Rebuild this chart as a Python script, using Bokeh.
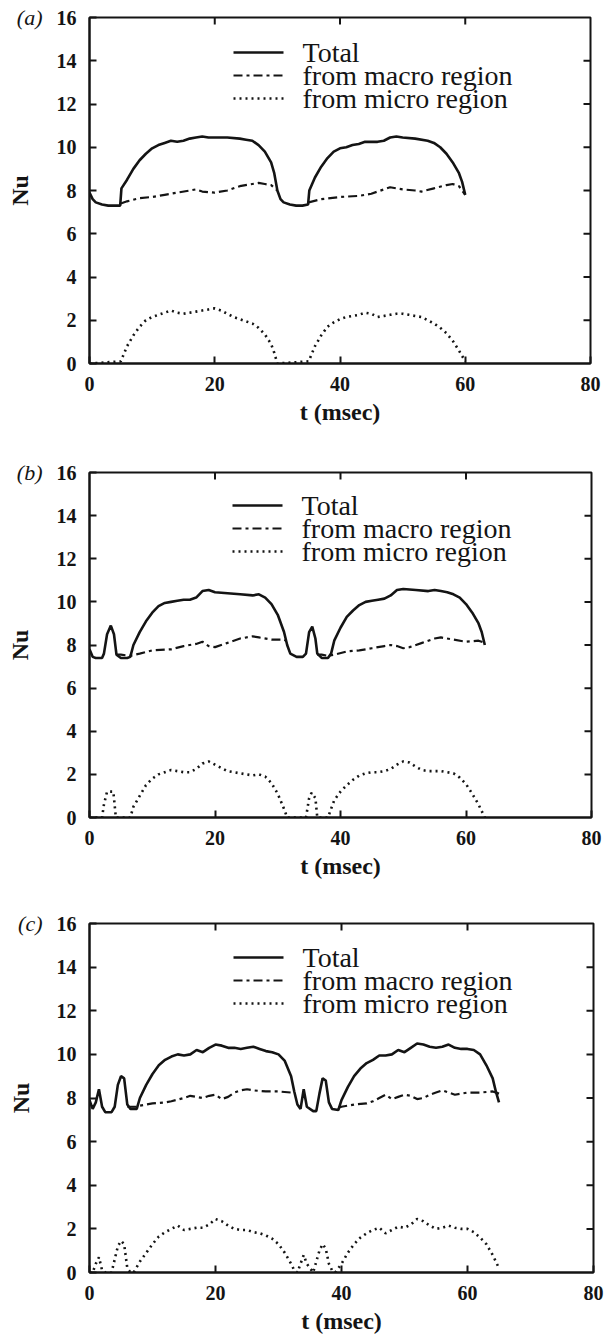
import math
from bokeh.plotting import figure
from bokeh.layouts import column
from bokeh.models import LinearAxis, FixedTicker, Range1d, CustomJSTickFormatter
from bokeh.core.properties import value
from bokeh.embed import file_html
from bokeh.resources import INLINE

NAN = math.nan

# ---------------- data: Nusselt number vs time ----------------
x_ticks = [0, 20, 40, 60, 80]
y_ticks = [0, 2, 4, 6, 8, 10, 12, 14, 16]
series_names = ["Total", "from macro region", "from micro region"]

# (a)
a_total_t = [0, 0.5, 1, 2, 3, 4, 4.9, 5.1, 6, 7, 8, 9, 10, 11, 12, 13, 14, 15, 16, 17, 18, 19, 20,
             22, 24, 25, 26, 27, 28, 29, 29.5, 30, 30.5, 31, 32, 33, 34, 34.9, 35.1,
             36, 37, 38, 39, 40, 41, 42, 43, 44, 45, 46, 47, 48, 49, 50, 52, 54, 55, 56, 57, 58, 59, 59.5, 60]
a_total = [7.9, 7.6, 7.45, 7.35, 7.3, 7.3, 7.3, 8.1, 8.5, 9.0, 9.4, 9.7, 9.95, 10.1, 10.2, 10.3, 10.25, 10.3,
           10.4, 10.45, 10.5, 10.45, 10.45, 10.45, 10.4, 10.35, 10.3, 10.1, 9.8, 9.3, 8.8, 8.0, 7.6, 7.45,
           7.35, 7.3, 7.3, 7.35, 8.0, 8.6, 9.1, 9.5, 9.8, 9.95, 10.0, 10.1, 10.15, 10.25, 10.25, 10.25, 10.3,
           10.45, 10.5, 10.45, 10.4, 10.3, 10.2, 10.0, 9.7, 9.3, 8.8, 8.4, 7.8]
a_macro_t = [5, 6, 8, 10, 12, 14, 16, 17, 18, 20, 22, 24, 26, 27, 28, 29, 30, NAN,
             35, 37, 40, 43, 45, 47, 48, 50, 52, 53, 55, 57, 58, 59, 60]
a_macro = [7.4, 7.5, 7.65, 7.7, 7.8, 7.9, 8.0, 8.05, 7.95, 7.9, 8.0, 8.2, 8.3, 8.35, 8.3, 8.25, 8.0, NAN,
           7.45, 7.6, 7.7, 7.75, 7.85, 8.05, 8.15, 8.05, 8.0, 7.95, 8.1, 8.25, 8.3, 8.2, 7.8]
a_micro_t = [0, 5, 6, 7, 8, 9, 10, 11, 12, 13, 14, 15, 16, 17, 18, 19, 20, 21, 22, 23, 24, 25, 26, 27, 28, 29,
             29.5, 30, 35, 36, 37, 38, 39, 40, 41, 42, 43, 44, 45, 46, 47, 48, 49, 50, 51, 52, 53, 54, 55,
             56, 57, 58, 59, 60]
a_micro = [0, 0.1, 0.8, 1.3, 1.7, 2.0, 2.15, 2.25, 2.35, 2.45, 2.35, 2.3, 2.35, 2.4, 2.45, 2.5, 2.55, 2.45,
           2.3, 2.15, 2.05, 1.95, 1.85, 1.65, 1.35, 0.9, 0.5, 0, 0.1, 0.8, 1.3, 1.7, 1.9, 2.05, 2.15, 2.2,
           2.25, 2.35, 2.3, 2.15, 2.2, 2.25, 2.3, 2.3, 2.25, 2.2, 2.15, 2.0, 1.85, 1.65, 1.4, 1.05, 0.6, 0.1]

# (b)
b_total_t = [0, 0.5, 1, 2, 2.3, 2.8, 3.4, 3.9, 4.3, 5, 6, 6.5, 7, 8, 9, 10, 11, 12, 13, 14, 15, 16, 17, 18,
             19, 20, 22, 24, 26, 27, 28, 29, 30, 31, 31.5, 32, 33, 34, 34.5, 35, 35.5, 36, 36.3, 37, 38,
             38.5, 39, 40, 41, 42, 43, 44, 45, 46, 47, 48, 49, 50, 52, 54, 55, 56, 57, 58, 59, 60, 61, 62,
             62.5, 63]
b_total = [7.8, 7.45, 7.4, 7.4, 7.6, 8.5, 8.9, 8.5, 7.55, 7.4, 7.4, 7.45, 8.0, 8.6, 9.1, 9.5, 9.8, 9.95,
           10.0, 10.05, 10.1, 10.1, 10.2, 10.5, 10.55, 10.45, 10.4, 10.35, 10.3, 10.35, 10.2, 9.9, 9.4, 8.6,
           8.0, 7.6, 7.45, 7.45, 7.6, 8.6, 8.85, 8.3, 7.6, 7.4, 7.4, 7.6, 8.2, 8.8, 9.3, 9.6, 9.85, 10.0,
           10.05, 10.1, 10.15, 10.3, 10.55, 10.6, 10.55, 10.5, 10.55, 10.5, 10.45, 10.35, 10.2, 9.9, 9.5,
           9.0, 8.6, 8.0]
b_macro_t = [4.3, 5, 6.5, 8, 10, 13, 15, 17, 18, 19, 20, 22, 24, 26, 27, 29, 31, 31.3, NAN,
             36.3, 37, 38, 39, 41, 43, 45, 47, 48, 49, 50, 51, 53, 55, 56, 58, 60, 62, 63]
b_macro = [7.55, 7.55, 7.5, 7.6, 7.75, 7.8, 7.95, 8.05, 8.15, 7.95, 7.9, 8.1, 8.3, 8.4, 8.35, 8.25, 8.25,
           8.2, NAN, 7.55, 7.55, 7.5, 7.55, 7.7, 7.75, 7.85, 7.95, 8.0, 7.95, 7.85, 7.9, 8.1, 8.3, 8.35,
           8.25, 8.15, 8.2, 8.1]
b_micro_t = [0, 2, 2.3, 2.8, 3.8, 4.2, 6.5, 7, 8, 9, 10, 11, 12, 13, 14, 15, 16, 17, 18, 19, 20, 21, 22,
             24, 26, 27, 28, 29, 30, 31, 31.5, 34.5, 35, 35.4, 36, 36.3, 38, 38.5, 39, 40, 41, 42, 43, 44,
             45, 46, 47, 48, 49, 50, 51, 52, 53, 54, 55, 56, 57, 58, 59, 60, 61, 62, 63]
b_micro = [0, 0, 0.6, 1.2, 1.2, 0, 0, 0.5, 1.0, 1.5, 1.8, 2.0, 2.1, 2.2, 2.15, 2.1, 2.1, 2.25, 2.5, 2.6,
           2.45, 2.3, 2.15, 2.05, 1.95, 2.0, 1.9, 1.6, 1.1, 0.4, 0, 0, 0.9, 1.15, 0.9, 0, 0, 0.4, 0.8, 1.2,
           1.5, 1.75, 1.95, 2.05, 2.1, 2.1, 2.15, 2.25, 2.45, 2.6, 2.55, 2.35, 2.2, 2.15, 2.15, 2.15, 2.1,
           2.05, 1.85, 1.55, 1.1, 0.6, 0]

# (c)
c_total_t = [0, 0.5, 1, 1.5, 2, 2.5, 3.5, 4, 4.5, 5, 5.5, 6, 6.5, 7.5, 8, 9, 10, 11, 12, 13, 14, 15, 16,
             17, 18, 19, 20, 21, 22, 23, 24, 25, 26, 27, 28, 29, 30, 31, 32, 32.5, 33, 33.5, 34, 34.5,
             35.5, 36, 36.5, 37, 37.5, 38, 38.5, 39.5, 40, 41, 42, 43, 44, 45, 46, 47, 48, 49, 50, 51, 52,
             53, 54, 55, 56, 57, 58, 59, 60, 61, 62, 63, 64, 64.5, 65]
c_total = [7.9, 7.5, 7.8, 8.4, 7.6, 7.35, 7.35, 7.6, 8.6, 9.0, 8.9, 7.7, 7.5, 7.5, 8.0, 8.6, 9.1, 9.5,
           9.75, 9.9, 10.0, 9.95, 10.0, 10.2, 10.1, 10.3, 10.45, 10.4, 10.3, 10.3, 10.25, 10.3, 10.35,
           10.25, 10.15, 10.1, 10.0, 9.7, 9.0, 8.3, 7.7, 7.5, 8.4, 7.6, 7.4, 7.4, 8.2, 8.9, 8.8, 7.8, 7.5,
           7.45, 7.9, 8.5, 9.0, 9.35, 9.6, 9.75, 9.95, 9.95, 10.0, 10.2, 10.1, 10.3, 10.5, 10.45, 10.35,
           10.3, 10.35, 10.45, 10.3, 10.25, 10.25, 10.2, 10.0, 9.5, 8.9, 8.3, 7.8]
c_macro_t = [6, 7.5, 8, 10, 12, 13, 15, 16, 17, 18, 19, 20, 21, 22, 23, 24, 25, 26, 28, 30, 32, NAN,
             39.5, 40, 42, 44, 45, 46, 47, 48, 49, 50, 51, 52, 53, 54, 55, 56, 57, 58, 59, 60, 62, 64, 65]
c_macro = [7.6, 7.6, 7.65, 7.75, 7.8, 7.85, 8.0, 8.1, 8.05, 8.0, 8.1, 8.15, 7.95, 8.05, 8.25, 8.35, 8.4,
           8.35, 8.3, 8.3, 8.25, NAN, 7.55, 7.6, 7.7, 7.75, 7.85, 8.0, 8.15, 7.95, 8.05, 8.15, 8.1, 7.95,
           8.0, 8.15, 8.25, 8.35, 8.25, 8.15, 8.2, 8.25, 8.25, 8.3, 8.2]
c_micro_t = [0, 0.5, 1, 1.5, 2, 2.5, 3.5, 4, 4.5, 5, 5.5, 6, 6.5, 7, 8, 9, 10, 11, 12, 13, 14, 15, 16, 17,
             18, 19, 20, 21, 22, 23, 24, 25, 26, 27, 28, 29, 30, 31, 32, 32.5, 33, 33.5, 34, 34.5, 35,
             35.5, 36, 36.5, 37, 37.5, 38, 38.5, 39, 40, 41, 42, 43, 44, 45, 46, 47, 48, 49, 50, 51, 52,
             53, 54, 55, 56, 57, 58, 59, 60, 61, 62, 63, 64, 65]
c_micro = [0, 0, 0.4, 0.7, 0.1, 0, 0, 0.6, 1.2, 1.45, 1.3, 0.2, 0, 0, 0.5, 0.9, 1.3, 1.65, 1.85, 2.0, 2.15,
           1.95, 2.0, 2.05, 2.05, 2.2, 2.45, 2.35, 2.15, 2.0, 1.95, 1.95, 1.85, 1.8, 1.7, 1.55, 1.3, 0.9,
           0.4, 0.1, 0, 0.4, 0.8, 0.4, 0.2, 0, 0.5, 1.0, 1.3, 1.1, 0.4, 0.1, 0, 0.4, 0.9, 1.3, 1.6, 1.8,
           1.95, 2.05, 1.8, 1.95, 2.1, 2.05, 2.2, 2.45, 2.35, 2.15, 2.0, 2.05, 2.15, 2.05, 2.0, 2.0, 1.85,
           1.6, 1.3, 0.8, 0.2]

# ---------------- styling ----------------
INK = "#141414"
SERIF = "Liberation Serif"
TICK = 7  # inward tick length, px
STYLES = [dict(line_width=2.6),
          dict(line_width=2.2, line_dash="9 4 3 4"),
          dict(line_width=2.6, line_dash="2 4")]


def panel(tag, series, left, fw, right, top, fh, bottom, key_left, key_top):
    p = figure(frame_width=fw, frame_height=fh, min_border_left=left, min_border_right=right,
               min_border_top=top, min_border_bottom=bottom,
               x_range=Range1d(0, 80), y_range=Range1d(0, 16),
               output_backend="svg", toolbar_location=None, x_axis_location=None,
               y_axis_location=None)
    p.grid.visible = False
    p.outline_line_color = INK
    p.outline_line_width = 2
    p.background_fill_color = "white"
    p.border_fill_color = "white"

    def axis(loc, ticks):
        ax = LinearAxis(ticker=FixedTicker(ticks=ticks))
        ax.axis_line_color = INK
        ax.axis_line_width = 2
        ax.major_tick_in = TICK
        ax.major_tick_out = 0
        ax.major_tick_line_width = 2
        ax.major_tick_line_color = INK
        ax.minor_tick_line_color = None
        ax.major_label_text_font = SERIF
        ax.major_label_text_font_style = "bold"
        ax.major_label_text_font_size = "20px"
        ax.major_label_text_color = INK
        ax.major_label_standoff = 13
        ax.axis_label_text_font = SERIF
        ax.axis_label_text_font_style = "bold"
        ax.axis_label_text_font_size = "24px"
        ax.axis_label_text_color = INK
        p.add_layout(ax, loc)
        return ax

    xb = axis("below", x_ticks)
    xb.axis_label = "t (msec)"
    xb.axis_label_standoff = 5
    axis("left", y_ticks)

    # outer left axis: carries the panel tag beside the top tick and the "Nu" title
    tag_ax = LinearAxis(ticker=FixedTicker(ticks=[y_ticks[-1]]),
                        formatter=CustomJSTickFormatter(code=f"return '({tag})'"))
    tag_ax.axis_line_color = None
    tag_ax.major_tick_line_color = None
    tag_ax.minor_tick_line_color = None
    tag_ax.major_tick_in = 0
    tag_ax.major_tick_out = 0
    tag_ax.major_label_standoff = 11
    tag_ax.major_label_text_font = SERIF
    tag_ax.major_label_text_font_style = "italic"
    tag_ax.major_label_text_font_size = "22px"
    tag_ax.major_label_text_color = INK
    tag_ax.axis_label = "Nu"
    tag_ax.axis_label_text_font = SERIF
    tag_ax.axis_label_text_font_style = "bold"
    tag_ax.axis_label_text_font_size = "24px"
    tag_ax.axis_label_text_color = INK
    tag_ax.axis_label_standoff = -19
    p.add_layout(tag_ax, "left")

    # inward tick marks on the top and right edges of the frame
    p.ray(x=x_ticks[1:-1], y=[y_ticks[-1]] * 3, length=TICK, length_units="screen",
          angle=-math.pi / 2, line_color=INK, line_width=2)
    p.ray(x=[x_ticks[-1]] * 7, y=y_ticks[1:-1], length=TICK, length_units="screen",
          angle=math.pi, line_color=INK, line_width=2)

    for (t, nu), st in zip(series, STYLES):
        p.line(t, nu, line_color=INK, **st)

    # key: sample strokes and names, placed in pixel terms inside the frame
    dx = 80 / fw
    dy = 16 / fh
    row = 23
    for i, (name, st) in enumerate(zip(series_names, STYLES)):
        yk = 16 - (key_top + i * row) * dy
        p.line([key_left * dx, (key_left + 50) * dx], [yk, yk], line_color=INK, **st)
        p.text(x=[(key_left + 69) * dx], y=[yk], text=[name], text_font=value(SERIF),
               text_font_size="28px", text_color=INK, text_baseline="middle",
               text_align="left")
    return p


pa = panel("a", [(a_total_t, a_total), (a_macro_t, a_macro), (a_micro_t, a_micro)],
           89, 501, 14, 17, 346, 92, 144, 35)
pb = panel("b", [(b_total_t, b_total), (b_macro_t, b_macro), (b_micro_t, b_micro)],
           88, 502, 14, 17, 345, 93, 143, 33)
pc = panel("c", [(c_total_t, c_total), (c_macro_t, c_macro), (c_micro_t, c_micro)],
           85, 504, 15, 13, 349, 65, 144, 34)

layout = column(pa, pb, pc, spacing=0)
open("out.html", "w").write(file_html(layout, INLINE))
